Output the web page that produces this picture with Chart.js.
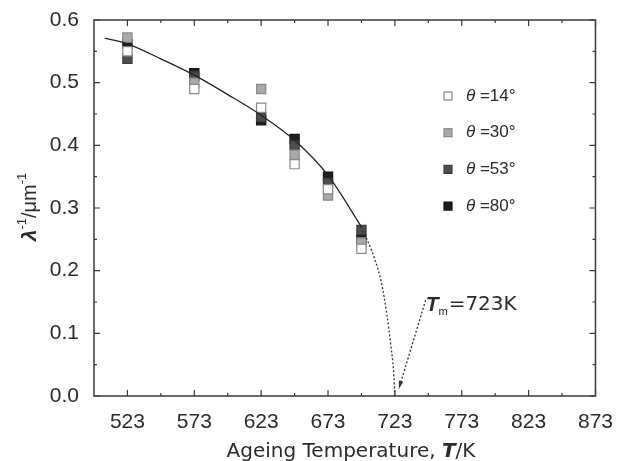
<!DOCTYPE html>
<html lang="en">
  <head>
    <meta charset="UTF-8" />
    <title>Ageing Temperature</title>
    <script src="https://cdn.jsdelivr.net/npm/chart.js"></script>
    <style>
      body {
        margin: 0;
        background-color: #ffffff;
      }
      #wrap {
        width: 619px;
        height: 461px;
      }
    </style>
  </head>
  <body>
    <div id="wrap"><canvas id="spacingChart"></canvas></div>

    <script>
      // measured wavelength data, one list per angle
      const temps = [523, 573, 623, 648, 673, 698];
      const theta14 = [0.55, 0.49, 0.46, 0.37, 0.33, 0.235];
      const theta30 = [0.572, 0.50, 0.49, 0.385, 0.32, 0.245];
      const theta53 = [0.538, 0.51, 0.445, 0.40, 0.34, 0.265];
      const theta80 = [0.562, 0.515, 0.44, 0.41, 0.35, 0.25];
      const angleLabels = ["14", "30", "53", "80"];

      // fitted curve and its extrapolation down to Tm
      const fitT = [506, 523, 548, 573, 598, 623, 648, 673, 698];
      const fitV = [0.571, 0.562, 0.538, 0.512, 0.481, 0.448, 0.408, 0.352, 0.27];
      const extT = [698, 708, 713, 717, 720, 722, 723];
      const extV = [0.27, 0.218, 0.18, 0.13, 0.08, 0.04, 0.0];

      const xTicks = [523, 573, 623, 673, 723, 773, 823, 873];
      const yTicks = [0, 0.1, 0.2, 0.3, 0.4, 0.5, 0.6];
      const tm = 723;

      const toPts = (xs, ys) => xs.map((t, i) => ({ x: t, y: ys[i] }));

      const markerStyles = [
        { bg: "#ffffff", border: "#8a8a8a" },
        { bg: "#a9a9a9", border: "#8a8a8a" },
        { bg: "#4d4d4d", border: "#3c3c3c" },
        { bg: "#1e1e1e", border: "#111111" },
      ];
      const series = [theta14, theta30, theta53, theta80];

      const pointSets = series.map((vals, i) => ({
        label: "\u03b8=" + angleLabels[i] + "\u00b0",
        data: toPts(temps, vals),
        showLine: false,
        pointStyle: "rect",
        pointRadius: 6.5,
        pointBackgroundColor: markerStyles[i].bg,
        pointBorderColor: markerStyles[i].border,
        pointBorderWidth: 1.2,
        backgroundColor: markerStyles[i].bg,
        borderColor: markerStyles[i].border,
        order: 1,
      }));

      const curveSets = [
        {
          label: "fit",
          data: toPts(fitT, fitV),
          showLine: true,
          borderColor: "#222222",
          borderWidth: 1.3,
          pointRadius: 0,
          cubicInterpolationMode: "monotone",
          order: 0,
        },
        {
          label: "extrapolation",
          data: toPts(extT, extV),
          showLine: true,
          borderColor: "#333333",
          borderWidth: 1.3,
          borderDash: [2, 2],
          pointRadius: 0,
          cubicInterpolationMode: "monotone",
          order: 0,
        },
      ];

      const TEXT = "#2b2b2b";

      // frame, inward ticks, legend, axis titles and the Tm arrow
      const decorations = {
        id: "decorations",
        afterDraw(chart) {
          const { ctx, chartArea: a, scales } = chart;
          const xs = scales.x;
          const ys = scales.y;
          ctx.save();

          ctx.strokeStyle = "#3a3a3a";
          ctx.lineWidth = 1.5;
          ctx.strokeRect(a.left, a.top, a.right - a.left, a.bottom - a.top);

          ctx.lineWidth = 1.2;
          ctx.beginPath();
          xTicks.forEach((v, i) => {
            const px = xs.getPixelForValue(v);
            ctx.moveTo(px, a.bottom); ctx.lineTo(px, a.bottom - 6);
            ctx.moveTo(px, a.top); ctx.lineTo(px, a.top + 6);
            if (i < xTicks.length - 1) {
              const mx = xs.getPixelForValue((v + xTicks[i + 1]) / 2);
              ctx.moveTo(mx, a.bottom); ctx.lineTo(mx, a.bottom - 3);
              ctx.moveTo(mx, a.top); ctx.lineTo(mx, a.top + 3);
            }
          });
          yTicks.forEach((v, i) => {
            const py = ys.getPixelForValue(v);
            ctx.moveTo(a.left, py); ctx.lineTo(a.left + 6, py);
            ctx.moveTo(a.right, py); ctx.lineTo(a.right - 6, py);
            if (i < yTicks.length - 1) {
              const my = ys.getPixelForValue((v + yTicks[i + 1]) / 2);
              ctx.moveTo(a.left, my); ctx.lineTo(a.left + 3, my);
              ctx.moveTo(a.right, my); ctx.lineTo(a.right - 3, my);
            }
          });
          ctx.stroke();

          // legend
          ctx.fillStyle = TEXT;
          ctx.textBaseline = "middle";
          const lx = 448, ly = 96, gap = 36.7;
          pointSets.forEach((ds, i) => {
            const cy = ly + i * gap;
            ctx.fillStyle = ds.backgroundColor;
            ctx.strokeStyle = ds.borderColor;
            ctx.lineWidth = 1.2;
            ctx.fillRect(lx - 4, cy - 4, 8, 8);
            ctx.strokeRect(lx - 4, cy - 4, 8, 8);
            ctx.fillStyle = TEXT;
            ctx.font = "italic 17px 'Liberation Sans'";
            ctx.textAlign = "left";
            ctx.fillText("\u03b8", 466, cy);
            const w = ctx.measureText("\u03b8").width;
            ctx.font = "17px 'Liberation Sans'";
            ctx.fillText(" =" + angleLabels[i] + "\u00b0", 466 + w, cy);
          });

          // x title
          ctx.textBaseline = "alphabetic";
          const xParts = [
            ["Ageing Temperature, ", "20px 'DejaVu Sans'"],
            ["T", "italic bold 20px 'DejaVu Sans'"],
            ["/K", "20px 'DejaVu Sans'"],
          ];
          drawParts(ctx, xParts, 351, 457);

          // y title, rotated
          ctx.save();
          ctx.translate(30, 207);
          ctx.rotate(-Math.PI / 2);
          ctx.textBaseline = "middle";
          const yParts = [
            ["\u03bb", "italic bold 21px 'Liberation Sans'", 0],
            ["-1", "13px 'Liberation Sans'", -8],
            ["/\u03bcm", "20px 'Liberation Sans'", 0],
            ["-1", "13px 'Liberation Sans'", -8],
          ];
          drawParts(ctx, yParts, 0, 0);
          ctx.restore();

          // Tm annotation with arrow to the axis
          const tx = xs.getPixelForValue(746);
          const ty = ys.getPixelForValue(0.145);
          ctx.textBaseline = "middle";
          let cx = tx;
          ctx.font = "italic bold 21px 'Liberation Sans'";
          ctx.textAlign = "left";
          ctx.fillText("T", cx, ty);
          cx += ctx.measureText("T").width;
          ctx.font = "11px 'Liberation Sans'";
          ctx.fillText("m", cx, ty + 7);
          cx += ctx.measureText("m").width + 1;
          ctx.font = "20px 'DejaVu Sans'";
          ctx.fillText("=723K", cx, ty);

          const ax0 = xs.getPixelForValue(746), ay0 = ys.getPixelForValue(0.153);
          const ax1 = xs.getPixelForValue(tm + 3), ay1 = ys.getPixelForValue(0.012);
          ctx.strokeStyle = "#333333";
          ctx.lineWidth = 1.3;
          ctx.setLineDash([2, 2]);
          ctx.beginPath();
          ctx.moveTo(ax0, ay0);
          ctx.lineTo(ax1, ay1);
          ctx.stroke();
          ctx.setLineDash([]);
          const ang = Math.atan2(ay1 - ay0, ax1 - ax0);
          ctx.fillStyle = "#333333";
          ctx.beginPath();
          ctx.moveTo(ax1, ay1);
          ctx.lineTo(ax1 - 8 * Math.cos(ang - 0.3), ay1 - 8 * Math.sin(ang - 0.3));
          ctx.lineTo(ax1 - 8 * Math.cos(ang + 0.3), ay1 - 8 * Math.sin(ang + 0.3));
          ctx.closePath();
          ctx.fill();

          ctx.restore();
        },
      };

      // draws text runs with mixed fonts centred on (cx, cy)
      function drawParts(ctx, parts, cx, cy) {
        let total = 0;
        parts.forEach((p) => {
          ctx.font = p[1];
          total += ctx.measureText(p[0]).width;
        });
        let x = cx - total / 2;
        ctx.textAlign = "left";
        ctx.fillStyle = TEXT;
        parts.forEach((p) => {
          ctx.font = p[1];
          ctx.fillText(p[0], x, cy + (p[2] || 0));
          x += ctx.measureText(p[0]).width;
        });
      }

      const ctx = document.getElementById("spacingChart").getContext("2d");
      new Chart(ctx, {
        type: "scatter",
        data: { datasets: [...curveSets, ...pointSets] },
        options: {
          responsive: true,
          maintainAspectRatio: false,
          animation: false,
          layout: { padding: { top: 20, right: 22, left: 0, bottom: 0 } },
          plugins: {
            legend: { display: false },
            tooltip: { enabled: false },
          },
          scales: {
            x: {
              type: "linear",
              min: 498,
              max: 873,
              afterBuildTicks: (s) => {
                s.ticks = xTicks.map((v) => ({ value: v }));
              },
              afterFit: (s) => {
                s.height = 65;
              },
              grid: { display: false },
              border: { display: false },
              ticks: {
                padding: 6,
                color: TEXT,
                font: { family: "'Liberation Sans'", size: 21 },
                maxRotation: 0,
              },
            },
            y: {
              min: 0,
              max: 0.6,
              afterBuildTicks: (s) => {
                s.ticks = yTicks.map((v) => ({ value: v }));
              },
              afterFit: (s) => {
                s.width = 94;
              },
              grid: { display: false },
              border: { display: false },
              ticks: {
                padding: 7,
                color: TEXT,
                font: { family: "'Liberation Sans'", size: 21 },
                callback: (v) => Number(v).toFixed(1),
              },
            },
          },
        },
        plugins: [decorations],
      });
    </script>
  </body>
</html>
